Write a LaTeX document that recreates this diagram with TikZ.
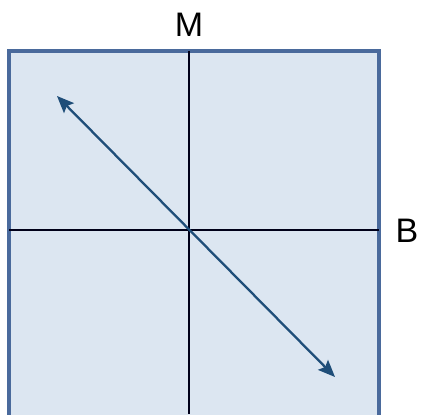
\documentclass[tikz,border=0pt]{standalone}
\usepackage{fontspec}
\setmainfont{Liberation Sans}
\usepackage{xcolor}
\definecolor{fieldBlue}{HTML}{DCE6F1}
\definecolor{frameBlue}{HTML}{4A6A9C}
\definecolor{arrowBlue}{HTML}{1F4E79}
\usetikzlibrary{positioning,arrows.meta}

\begin{document}
\begin{tikzpicture}[x=1pt, y=-1pt,
    every node/.style={font=\fontsize{34}{40}\selectfont},
    axis/.style={draw=black!90!blue, line width=2.3pt},
    arr/.style={{Stealth[length=17pt,width=14pt,inset=3pt]}-{Stealth[length=17pt,width=14pt,inset=3pt]},
                draw=arrowBlue, line width=2.3pt}]
  \useasboundingbox (0,0) rectangle (422,414);
  \clip (0,0) rectangle (422,414);
  % field with its frame
  \node[draw=frameBlue, fill=fieldBlue, line width=4pt, inner sep=0pt,
        minimum width=370, minimum height=370] (field) at (194,236) {};
  \coordinate (ctr) at (189,230);
  \coordinate (top) at (189,51);
  \coordinate (bot) at (189,414);
  \coordinate (lft) at (9,230);
  \coordinate (rgt) at (379,230);
  \coordinate (ul) at (57,96);
  \coordinate (lr) at (335,377);
  % crosshair
  \draw[axis] (top) -- (bot);
  \draw[axis] (lft) -- (rgt);
  \draw[arr] (ul) -- (lr);
  % labels
  \node (M) at (189,25) {M};
  \node (B) at (407,231) {B};
\end{tikzpicture}
\end{document}
